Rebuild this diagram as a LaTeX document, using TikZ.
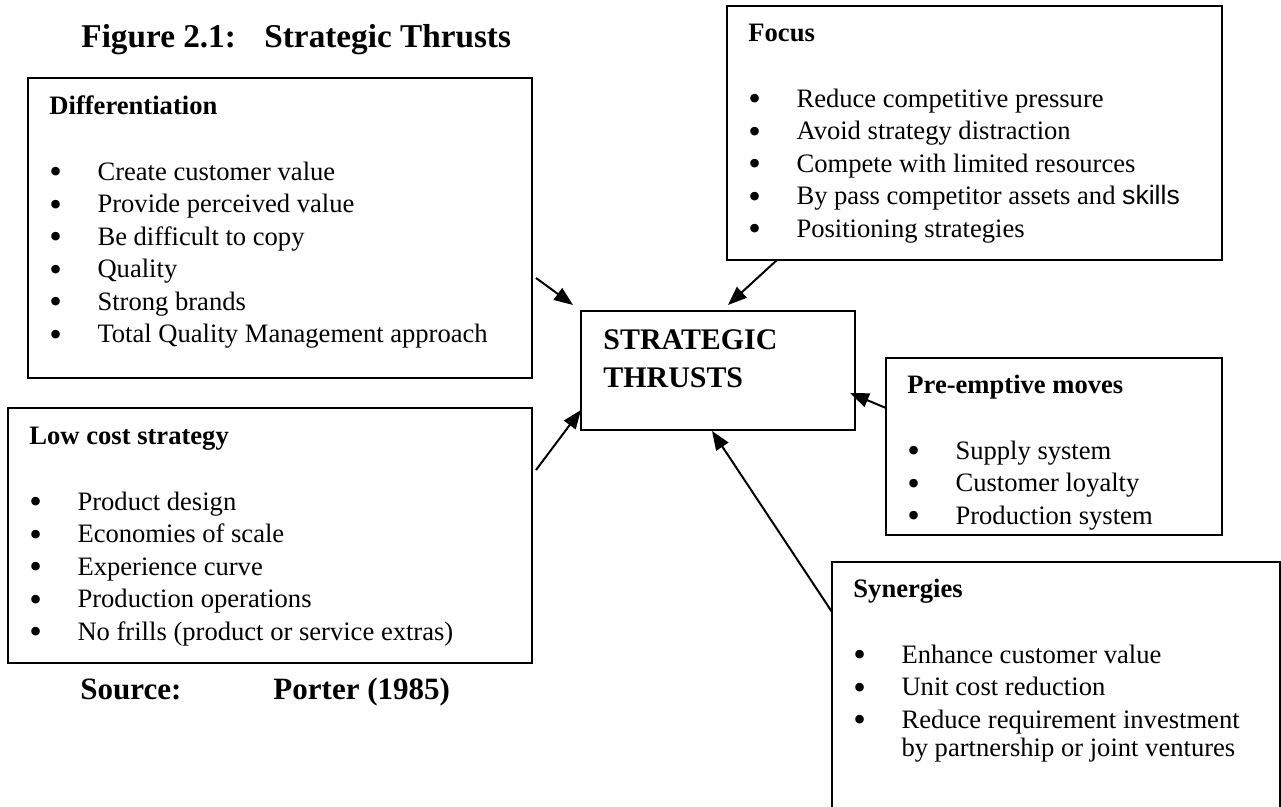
\documentclass[tikz,border=0pt]{standalone}
\usepackage{graphicx}
\usepackage{fontspec}
\setmainfont{Liberation Serif}
\setsansfont{Liberation Sans}
\usetikzlibrary{arrows.meta,fit}

\tikzset{
  thrustbox/.style={draw, line width=0.8pt, inner sep=0pt},
  boxtext/.style={anchor=base west, inner sep=0pt},
  push/.style={line width=0.9pt, -{Triangle[length=8.5pt,width=6.5pt]}},
}
\newcommand{\boxlist}[2]{\parbox[t]{240pt}{\fontsize{12}{14.67}\selectfont\raggedright\textbf{#1}\par\mbox{}#2}}
\newcommand{\bul}[1]{\par\makebox[21.7pt][l]{\raisebox{-0.14em}{\scalebox{1.35}{\textbullet}}}#1}
\newcommand{\contline}[1]{\par\vspace{-1.6pt}\hspace*{21.7pt}#1}

\begin{document}
\begin{tikzpicture}[x=0.4513pt,y=-0.4513pt]
\clip (0,0) rectangle (1281,807);

% Boxes
\node [thrustbox, fit={(28,78) (532,378)}] (diff) {};
\node [thrustbox, fit={(8,408) (532,663)}] (lowcost) {};
\node [thrustbox, fit={(727,6) (1222,260)}] (focus) {};
\node [thrustbox, fit={(581,311) (855,430)}] (core) {};
\node [thrustbox, fit={(886,358) (1222,535)}] (preempt) {};
\node [thrustbox, fit={(832,562) (1280,830)}] (synergy) {};

% Text Node
\node [boxtext] (figlabel) at (81,48) {\fontsize{15}{18}\selectfont\bfseries Figure 2.1:};
\node [boxtext] (figtitle) at (264,48) {\fontsize{15}{18}\selectfont\bfseries Strategic Thrusts};
\node [boxtext] (srclabel) at (80,700) {\fontsize{14}{17}\selectfont\bfseries Source:};
\node [boxtext] (srcname) at (273,700) {\fontsize{14}{17}\selectfont\bfseries Porter (1985)};

% Text Node
\node [boxtext] (coretext) at (603,350) {\parbox[t]{120pt}{\fontsize{13.5}{17}\selectfont\bfseries STRATEGIC\par THRUSTS}};
\node [boxtext] (difftext) at (49,115) {\boxlist{Differentiation}{%
  \bul{Create customer value}\bul{Provide perceived value}\bul{Be difficult to copy}%
  \bul{Quality}\bul{Strong brands}\bul{Total Quality Management approach}}};
\node [boxtext] (lowtext) at (29,445) {\boxlist{Low cost strategy}{%
  \bul{Product design}\bul{Economies of scale}\bul{Experience curve}%
  \bul{Production operations}\bul{No frills (product or service extras)}}};
\node [boxtext] (focustext) at (748,42) {\boxlist{Focus}{%
  \bul{Reduce competitive pressure}\bul{Avoid strategy distraction}%
  \bul{Compete with limited resources}\bul{By pass competitor assets and {\sffamily skills}}%
  \bul{Positioning strategies}}};
\node [boxtext] (pretext) at (907,394) {\boxlist{Pre-emptive moves}{%
  \bul{Supply system}\bul{Customer loyalty}\bul{Production system}}};
\node [boxtext] (syntext) at (853,598) {\boxlist{Synergies}{%
  \bul{Enhance customer value}\bul{Unit cost reduction}%
  \bul{Reduce requirement investment}\contline{by partnership or joint ventures}}};

% Arrows
\coordinate (diffout) at (536,278);
\coordinate (corein1) at (573,305);
\coordinate (lowout) at (536,470);
\coordinate (corein2) at (581,410);
\coordinate (focusout) at (777,260);
\coordinate (corein3) at (728,305);
\coordinate (preout) at (886,408);
\coordinate (corein4) at (850,393);
\coordinate (synout) at (832,612);
\coordinate (corein5) at (712,431);
\draw [push] (diffout) -- (corein1);
\draw [push] (lowout) -- (corein2);
\draw [push] (focusout) -- (corein3);
\draw [push] (preout) -- (corein4);
\draw [push] (synout) -- (corein5);

\end{tikzpicture}
\end{document}
